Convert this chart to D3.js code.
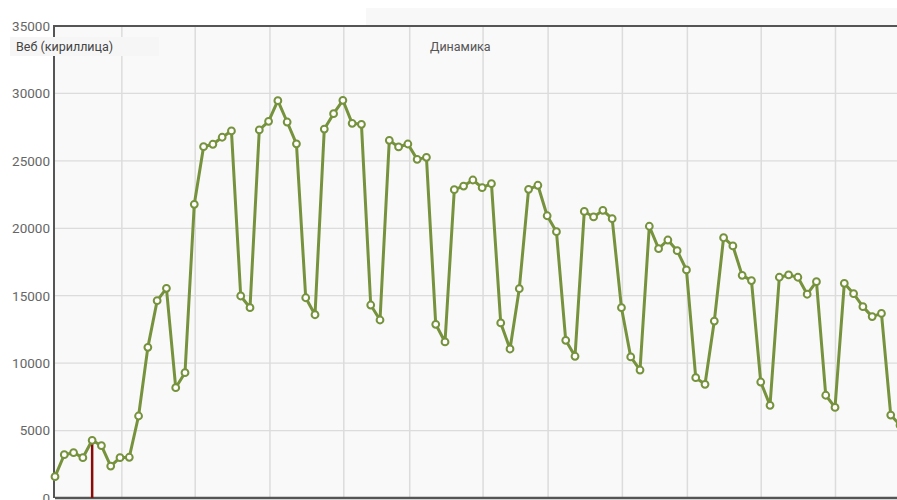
<html>
<head>
  <meta charset="utf-8">
  <title>Динамика</title>
  <script src="https://d3js.org/d3.v7.min.js"></script>
  <style>
    body { margin: 0; background: #fff; }
    svg { display: block; font-family: Roboto, "Noto Sans", sans-serif; }
  </style>
</head>
<body>
  <script>
	// daily values
	var values = [1580, 3210, 3360, 2990, 4280, 3880, 2370, 2990, 3020, 6080,
	              11170, 14630, 15550, 8180, 9290, 21780, 26050, 26230, 26750, 27220,
	              14980, 14110, 27290, 27930, 29460, 27880, 26260, 14850, 13590, 27360,
	              28500, 29490, 27780, 27710, 14310, 13200, 26520, 26030, 26250, 25110,
	              25260, 12880, 11570, 22860, 23130, 23580, 23010, 23310, 12980, 11050,
	              15520, 22890, 23190, 20930, 19750, 11690, 10510, 21250, 20840, 21330,
	              20710, 14110, 10460, 9490, 20150, 18490, 19130, 18340, 16910, 8920,
	              8430, 13120, 19300, 18690, 16510, 16120, 8600, 6870, 16370, 16540,
	              16370, 15110, 16040, 7620, 6720, 15920, 15150, 14190, 13450, 13690,
	              6150, 5400];
	var yTicks = [0, 5000, 10000, 15000, 20000, 25000, 30000, 35000];
	var xGrid = [7.2, 15.1, 23.15, 31.1, 38.2, 46.1, 53.1, 61.1, 68.1, 76.05, 84.05];
	var markerIndex = 4;
	var seriesName = 'Веб (кириллица)';
	var title = 'Динамика';

	var W = 897, H = 500;
	var plotLeft = 55, plotTop = 26, plotBottom = 498;

	var svg = d3.select('body')
	            .append('svg')
	              .attr('width', W)
	              .attr('height', H);

	var x = d3.scaleLinear().domain([0, values.length - 1]).range([plotLeft, plotLeft + (values.length - 1) * 9.286]);
	var y = d3.scaleLinear().domain([0, 35000]).range([plotBottom, plotTop]);

	// top strip
	svg.append('rect').attr('x', 0).attr('y', 8).attr('width', W).attr('height', plotTop - 8).attr('fill', '#f8f8f8');
	svg.append('rect').attr('x', 0).attr('y', 0).attr('width', 366).attr('height', plotTop).attr('fill', '#fff');

	// plot background
	svg.append('rect')
	  .attr('x', plotLeft).attr('y', plotTop)
	  .attr('width', W - plotLeft).attr('height', plotBottom - plotTop)
	  .attr('fill', '#f9f9f9');

	// grid
	svg.append('g').selectAll('line').data(yTicks.slice(1, -1)).enter().append('line')
	  .attr('x1', plotLeft).attr('x2', W)
	  .attr('y1', function(d){ return y(d); }).attr('y2', function(d){ return y(d); })
	  .attr('stroke', '#dcdcdc').attr('stroke-width', 1.2);
	svg.append('g').selectAll('line').data(xGrid).enter().append('line')
	  .attr('x1', function(d){ return x(d); }).attr('x2', function(d){ return x(d); })
	  .attr('y1', plotTop).attr('y2', plotBottom)
	  .attr('stroke', '#dcdcdc').attr('stroke-width', 1.5);

	// y axis labels
	var yAxis = svg.append('g')
	  .attr('transform', 'translate(' + (plotLeft - 5) + ',0)')
	  .call(d3.axisLeft(y).tickValues(yTicks).tickSize(0).tickPadding(0).tickFormat(d3.format('d')));
	yAxis.select('.domain').remove();
	yAxis.selectAll('text')
	  .attr('fill', '#666')
	  .style('font-size', '13.5px')
	  .style('font-family', 'Roboto, sans-serif');

	// frame lines
	svg.append('line').attr('x1', plotLeft).attr('x2', W).attr('y1', plotTop).attr('y2', plotTop)
	  .attr('stroke', '#555').attr('stroke-width', 2);
	svg.append('line').attr('x1', plotLeft).attr('x2', W).attr('y1', plotBottom).attr('y2', plotBottom)
	  .attr('stroke', '#555').attr('stroke-width', 2.5);
	svg.append('line').attr('x1', plotLeft - 1).attr('x2', plotLeft - 1).attr('y1', plotTop - 1).attr('y2', plotBottom)
	  .attr('stroke', '#555').attr('stroke-width', 2);

	// red marker
	svg.append('line')
	  .attr('x1', x(markerIndex)).attr('x2', x(markerIndex))
	  .attr('y1', plotBottom).attr('y2', y(values[markerIndex]))
	  .attr('stroke', '#8b0a0a').attr('stroke-width', 2.5);

	// series
	var line = d3.line()
	  .x(function(d, i){ return x(i); })
	  .y(function(d){ return y(d); });

	svg.append('path')
	  .datum(values)
	  .attr('d', line)
	  .attr('fill', 'none')
	  .attr('stroke', '#76923c')
	  .attr('stroke-width', 3)
	  .attr('stroke-linejoin', 'round');

	svg.append('g').selectAll('circle').data(values).enter().append('circle')
	  .attr('cx', function(d, i){ return x(i); })
	  .attr('cy', function(d){ return y(d); })
	  .attr('r', 3.4)
	  .attr('fill', '#fff')
	  .attr('stroke', '#76923c')
	  .attr('stroke-width', 2);

	// legend box
	svg.append('rect')
	  .attr('x', 10).attr('y', 37).attr('width', 149).attr('height', 19)
	  .attr('fill', '#f6f6f6');
	svg.append('text')
	  .attr('x', 16).attr('y', 51)
	  .attr('fill', '#444')
	  .style('font-size', '12.5px')
	  .text(seriesName);

	svg.append('text')
	  .attr('x', 430).attr('y', 51)
	  .attr('fill', '#555')
	  .style('font-size', '12.5px')
	  .text(title);

  </script>
</body>
</html>
